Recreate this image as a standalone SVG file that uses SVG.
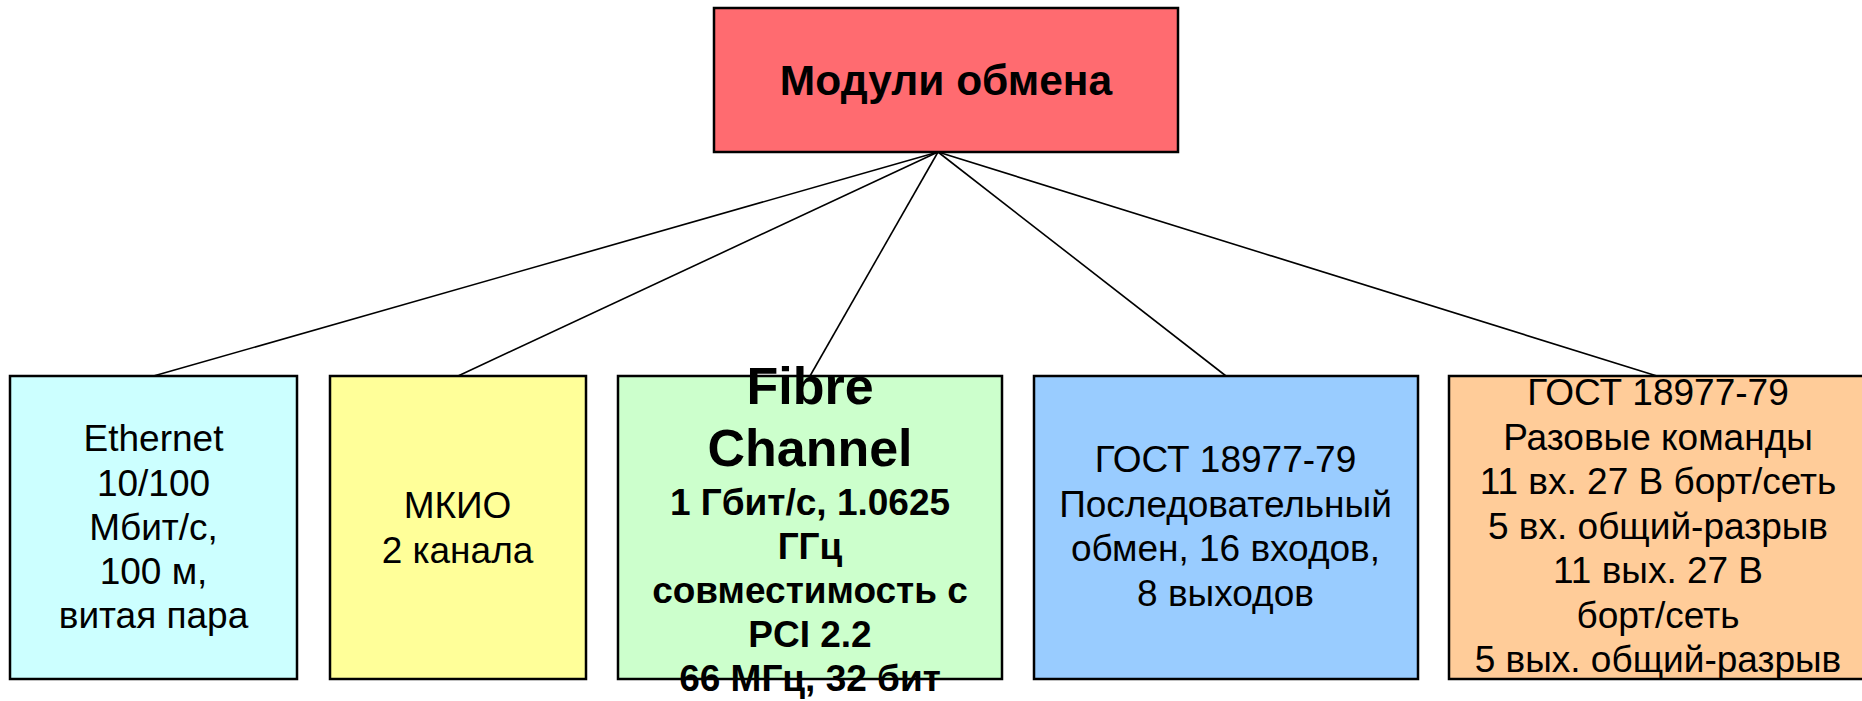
<svg xmlns="http://www.w3.org/2000/svg" width="1862" height="701" viewBox="0 0 1862 701">
<style>
.box{stroke:#000;stroke-width:2.5}
.t{font-family:"Liberation Sans",Arial,sans-serif;font-size:37px;fill:#000;text-anchor:middle}
.b{font-weight:bold}
.conn line{stroke:#000;stroke-width:1.6}
</style>
<rect width="1862" height="701" fill="#fff"/>
<g class="conn" id="connectors">
<line x1="938" y1="152" x2="153.5" y2="376"/>
<line x1="938" y1="152" x2="458" y2="376"/>
<line x1="938" y1="152" x2="810" y2="376"/>
<line x1="938" y1="152" x2="1226" y2="376"/>
<line x1="938" y1="152" x2="1657" y2="376"/>
</g>
<g id="root">
<rect class="box" x="714" y="8" width="464" height="144" fill="#FF6B70"/>
<text class="t b" x="946" y="95" style="font-size:42.5px">Модули обмена</text>
</g>
<g id="ethernet">
<rect class="box" x="10" y="376" width="287" height="303" fill="#CCFFFF"/>
<text class="t" x="153.5" y="451">Ethernet</text>
<text class="t" x="153.5" y="495.5">10/100</text>
<text class="t" x="153.5" y="540">Мбит/с,</text>
<text class="t" x="153.5" y="584">100 м,</text>
<text class="t" x="153.5" y="628">витая пара</text>
</g>
<g id="mkio">
<rect class="box" x="330" y="376" width="256" height="303" fill="#FFFF99"/>
<text class="t" x="457.5" y="518">МКИО</text>
<text class="t" x="457.5" y="563">2 канала</text>
</g>
<g id="fibre">
<rect class="box" x="618" y="376" width="384" height="303" fill="#CCFFCC"/>
<text class="t b" x="810" y="404" style="font-size:52px">Fibre</text>
<text class="t b" x="810" y="466" style="font-size:52px">Channel</text>
<text class="t b" x="810" y="515">1 Гбит/с, 1.0625</text>
<text class="t b" x="810" y="559">ГГц</text>
<text class="t b" x="810" y="603">совместимость с</text>
<text class="t b" x="810" y="647">PCI 2.2</text>
<text class="t b" x="810" y="691">66 МГц, 32 бит</text>
</g>
<g id="gost-serial">
<rect class="box" x="1034" y="376" width="384" height="303" fill="#99CCFF"/>
<text class="t" x="1225.5" y="472">ГОСТ 18977-79</text>
<text class="t" x="1225.5" y="516.5">Последовательный</text>
<text class="t" x="1225.5" y="561">обмен, 16 входов,</text>
<text class="t" x="1225.5" y="605.5">8 выходов</text>
</g>
<g id="gost-commands">
<rect class="box" x="1449" y="376" width="420" height="303" fill="#FFCC99"/>
<text class="t" x="1658" y="405">ГОСТ 18977-79</text>
<text class="t" x="1658" y="449.5">Разовые команды</text>
<text class="t" x="1658" y="494">11 вх. 27 В борт/сеть</text>
<text class="t" x="1658" y="538.5">5 вх. общий-разрыв</text>
<text class="t" x="1658" y="583">11 вых. 27 В</text>
<text class="t" x="1658" y="627.5">борт/сеть</text>
<text class="t" x="1658" y="672">5 вых. общий-разрыв</text>
</g>
</svg>
